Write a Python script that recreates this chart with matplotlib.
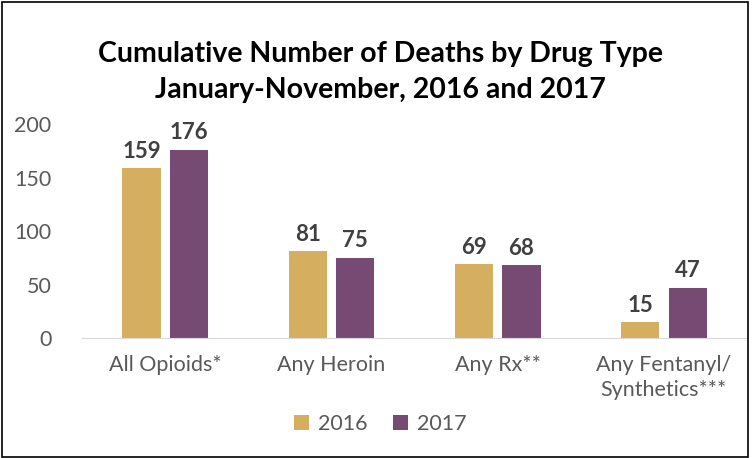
import numpy as np
import matplotlib.pyplot as plt
from matplotlib.patches import Rectangle

plt.rcParams['font.family'] = ['Lato', 'DejaVu Sans']

categories = ['All Opioids*', 'Any Heroin', 'Any Rx**', 'Any Fentanyl/\nSynthetics***']
deaths_2016 = [159, 81, 69, 15]
deaths_2017 = [176, 75, 68, 47]
years = ['2016', '2017']
colors = ['#D6AE5F', '#764A72']


def main():
	fig = plt.figure(figsize=(7.53, 4.58), dpi=100)
	ax = fig.add_axes([0.109, 0.262, 0.883, 0.467])

	x = np.arange(len(categories))
	w = 0.23
	off = 0.143
	for vals, c, lab, d in zip([deaths_2016, deaths_2017], colors, years, [-off, off]):
		bars = ax.bar(x + d, vals, w, color=c, label=lab)
		for b, v in zip(bars, vals):
			ax.text(b.get_x() + b.get_width() / 2, v + 6, str(v), ha='center', va='bottom',
					fontsize=16, fontweight='bold', color='#404040')

	ax.set_xlim(-0.5, len(categories) - 0.5)
	ax.set_ylim(0, 200)
	ax.set_yticks([0, 50, 100, 150, 200])
	ax.set_xticks(x)
	ax.set_xticklabels(categories, linespacing=1.35)
	for s in ['top', 'right', 'left']:
		ax.spines[s].set_visible(False)
	ax.spines['bottom'].set_color('#D9D9D9')
	ax.tick_params(axis='both', length=0, labelsize=15.5, labelcolor='#595959')
	ax.tick_params(axis='x', pad=12)
	ax.tick_params(axis='y', pad=22)

	fig.text(0.505, 0.843, 'Cumulative Number of Deaths by Drug Type\nJanuary-November, 2016 and 2017',
			 ha='center', va='center', fontsize=20.5, fontweight='bold', color='black', linespacing=1.5)

	fig.legend(loc='center', bbox_to_anchor=(0.505, 0.075), ncol=2, frameon=False,
			   fontsize=15.5, handlelength=0.7, handleheight=0.7, handletextpad=0.4,
			   columnspacing=1.2, labelcolor='#595959')

	fig.patches.append(Rectangle((0.002, 0.002), 0.992, 0.994, transform=fig.transFigure,
								 fill=False, edgecolor='black', linewidth=1.2))

	plt.savefig('out.png', dpi=100)


if __name__ == '__main__':
	main()
